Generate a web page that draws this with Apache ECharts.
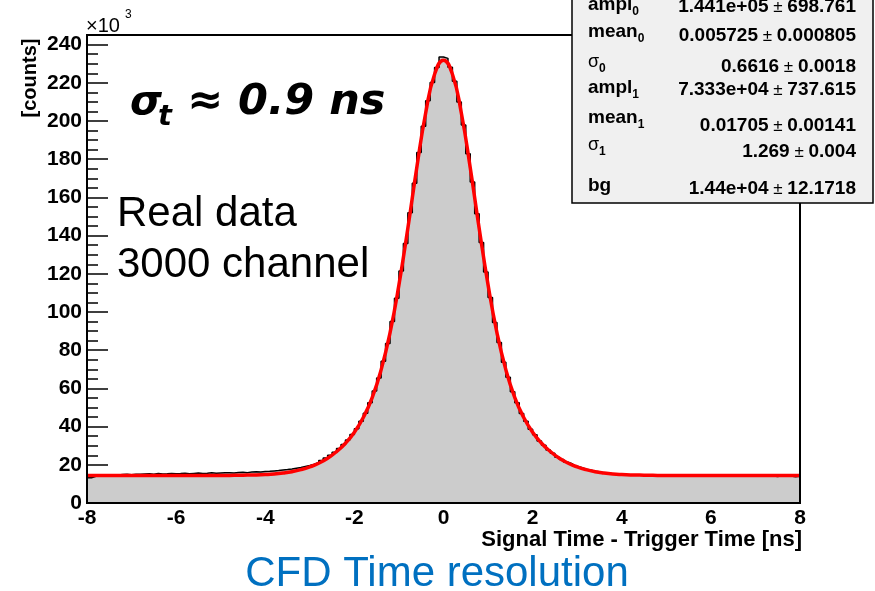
<!DOCTYPE html>
<html>
<head>
<meta charset="utf-8" />
<title>CFD Time resolution</title>
<script src="https://cdn.jsdelivr.net/npm/echarts@6/dist/echarts.min.js"></script>
<style>
  * { margin: 0; padding: 0; }
  body { background: #fff; }
  #main { width: 875px; height: 591px; }
</style>
</head>
<body>
<div id="main"></div>
<script>
// histogram: 160 bins of 0.1 ns from -8 to 8, counts in units of 10^3
var binLow = -8;
var binWidth = 0.1;
var counts = [
  13.2, 14.0, 14.3, 14.6, 14.5, 14.8, 14.7, 14.9, 15.0, 14.8,
  15.1, 15.0, 15.2, 15.3, 15.1, 15.4, 15.2, 15.3, 15.5, 15.3,
  15.4, 15.6, 15.3, 15.5, 15.7, 15.5, 15.6, 15.8, 15.6, 15.7,
  15.8, 15.9, 15.7, 16.0, 16.1, 15.9, 16.2, 16.3, 16.2, 16.5,
  16.6, 16.8, 17.0, 17.3, 17.5, 17.8, 18.2, 18.6, 19.1, 19.6,
  20.3, 21.2, 22.3, 23.6, 25.0, 26.6, 28.5, 30.6, 33.0, 35.8,
  38.9, 42.8, 47.0, 52.5, 58.6, 65.4, 74.2, 83.5, 95.0, 107.2,
  121.5, 135.8, 152.0, 167.4, 183.5, 197.2, 210.6, 220.2, 228.0, 233.5,
  232.8, 228.2, 220.8, 210.0, 197.9, 182.9, 168.0, 151.5, 136.4, 120.9,
  107.6, 94.5, 84.0, 73.7, 65.8, 58.2, 52.5, 46.9, 42.8, 38.6,
  35.7, 32.4, 30.3, 27.7, 26.0, 24.0, 22.8, 21.3, 20.4, 19.2,
  18.6, 17.7, 17.3, 16.6, 16.3, 15.8, 15.7, 15.2, 15.2, 14.9,
  14.9, 14.7, 14.8, 14.5, 14.6, 14.4, 14.6, 14.4, 14.5, 14.3,
  14.5, 14.3, 14.4, 14.2, 14.5, 14.3, 14.2, 14.4, 14.3, 14.1,
  14.4, 14.2, 14.3, 14.0, 14.3, 14.1, 14.4, 14.2, 14.0, 14.3,
  14.2, 14.0, 14.3, 14.1, 13.9, 14.2, 14.0, 14.1, 13.8, 14.0
];

// fitted curve read every 0.2 ns from -8 to 8
var fitLow = -8;
var fitStep = 0.2;
var fitValues = [
  14.4, 14.4, 14.4, 14.4, 14.4, 14.4, 14.4, 14.4, 14.4, 14.4,
  14.4, 14.4, 14.4, 14.4, 14.4, 14.4, 14.45, 14.5, 14.6, 14.7,
  14.9, 15.2, 15.7, 16.4, 17.45, 18.9, 20.8, 23.4, 26.9, 31.3,
  37.1, 44.8, 55.2, 69.7, 89.1, 114.2, 143.9, 175.5, 204.2, 224.5,
  231.8,
  224.5, 204.2, 175.5, 143.9, 114.2, 89.1, 69.7, 55.2, 44.8, 37.1,
  31.3, 26.9, 23.4, 20.8, 18.9, 17.45, 16.4, 15.7, 15.2, 14.9,
  14.7, 14.6, 14.5, 14.45, 14.4, 14.4, 14.4, 14.4, 14.4, 14.4,
  14.4, 14.4, 14.4, 14.4, 14.4, 14.4, 14.4, 14.4, 14.4, 14.4
];

// fit parameter box
var statNames = ['ampl', 'mean', 'σ', 'ampl', 'mean', 'σ', 'bg'];
var statSubs = ['0', '0', '0', '1', '1', '1', ''];
var statValues = ['1.441e+05', '0.005725', '0.6616', '7.333e+04', '0.01705', '1.269', '1.44e+04'];
var statErrors = ['698.761', '0.000805', '0.0018', '737.615', '0.00141', '0.004', '12.1718'];

var xMin = -8, xMax = 8, yMax = 240;

var font = '"Liberation Sans", Arial, sans-serif';

var histData = [];
for (var i = 0; i < counts.length; i++) {
  histData.push([binLow + i * binWidth, counts[i]]);
}
histData.push([binLow + counts.length * binWidth, counts[counts.length - 1]]);

var fitData = [];
for (var j = 0; j < fitValues.length; j++) {
  fitData.push([fitLow + j * fitStep, fitValues[j]]);
}

var graphics = [];
// frame of the pad (the y range runs a little above 240)
graphics.push({
  type: 'rect', z: 50, silent: true,
  shape: {x: 87, y: 35, width: 713, height: 468},
  style: {fill: 'none', stroke: '#000', lineWidth: 2}
});
// stats box
graphics.push({
  type: 'rect', z: 100,
  shape: {x: 572, y: -5, width: 301, height: 208},
  style: {fill: '#f0f0f0', stroke: '#000', lineWidth: 1.5}
});
var nameY = [5, 32, 62, 88, 118, 145, 186];
var valueY = [7, 36, 67, 90, 126, 152, 189];
for (var k = 0; k < statNames.length; k++) {
  var isSigma = statNames[k] === 'σ';
  graphics.push({
    type: 'text', z: 101, x: 588, y: nameY[k],
    style: {
      text: '{n|' + statNames[k] + '}' + (statSubs[k] ? '{s|' + statSubs[k] + '}' : ''),
      verticalAlign: 'middle',
      rich: {
        n: {fontFamily: font, fontSize: isSigma ? 18 : 19, fontWeight: isSigma ? 'normal' : 'bold', lineHeight: 26, fill: '#000'},
        s: {fontFamily: font, fontSize: 12, fontWeight: 'bold', lineHeight: 10, verticalAlign: 'bottom', fill: '#000'}
      }
    }
  });
  graphics.push({
    type: 'text', z: 101, x: 856, y: valueY[k],
    style: {
      text: '{v|' + statValues[k] + '}{p| ± }{v|' + statErrors[k] + '}',
      align: 'right', verticalAlign: 'middle',
      rich: {
        v: {fontFamily: font, fontSize: 19, fontWeight: 'bold', fill: '#000'},
        p: {fontFamily: font, fontSize: 17, fill: '#000'}
      }
    }
  });
}
// exponent marker and y title
graphics.push({type: 'text', x: 86, y: 26, style: {text: '×10', fontFamily: font, fontSize: 20, fill: '#000', verticalAlign: 'middle'}});
graphics.push({type: 'text', x: 125, y: 15, style: {text: '3', fontFamily: font, fontSize: 12, fill: '#000', verticalAlign: 'middle'}});
graphics.push({
  type: 'text', x: 30, y: 78, rotation: Math.PI / 2,
  style: {text: '[counts]', fontFamily: font, fontSize: 20, fontWeight: 'bold', fill: '#000', align: 'center', verticalAlign: 'middle'}
});
// x title
graphics.push({type: 'text', x: 802, y: 540, style: {text: 'Signal Time - Trigger Time [ns]', fontFamily: font, fontSize: 22, fontWeight: 'bold', fill: '#000', align: 'right', verticalAlign: 'middle'}});
// annotations
var big = '"DejaVu Sans", Verdana, sans-serif';
graphics.push({type: 'text', x: 130, y: 103, style: {text: 'σ', fontFamily: big, fontSize: 41, fontWeight: 'bold', fontStyle: 'italic', fill: '#000', verticalAlign: 'middle'}});
graphics.push({type: 'text', x: 158, y: 117, style: {text: 't', fontFamily: big, fontSize: 29, fontWeight: 'bold', fontStyle: 'italic', fill: '#000', verticalAlign: 'middle'}});
graphics.push({type: 'text', x: 187, y: 103, style: {text: '≈ 0.9 ns', fontFamily: big, fontSize: 43, fontWeight: 'bold', fontStyle: 'italic', fill: '#000', verticalAlign: 'middle'}});
graphics.push({type: 'text', x: 117, y: 214, style: {text: 'Real data', fontFamily: font, fontSize: 42, fill: '#000', verticalAlign: 'middle'}});
graphics.push({type: 'text', x: 117, y: 265, style: {text: '3000 channel', fontFamily: font, fontSize: 42, fill: '#000', verticalAlign: 'middle'}});
// slide title
graphics.push({type: 'text', x: 437, y: 574, style: {text: 'CFD Time resolution', fontFamily: font, fontSize: 42, fill: '#0070c0', align: 'center', verticalAlign: 'middle'}});

var chart = echarts.init(document.getElementById('main'), null, {renderer: 'canvas'});
var option = {
  animation: false,
  backgroundColor: '#fff',
  // top leaves room for the 240..245 strip of the frame
  grid: {left: 87, right: 75, top: 44.6, bottom: 88},
  xAxis: {
    type: 'value', min: xMin, max: xMax, interval: 2,
    axisLine: {onZero: false, lineStyle: {color: '#000', width: 2}},
    axisTick: {inside: true, length: 14, lineStyle: {color: '#000', width: 1.5}},
    minorTick: {show: true, splitNumber: 4, length: 7, lineStyle: {color: '#000', width: 1.5}},
    axisLabel: {color: '#000', fontFamily: font, fontSize: 21, fontWeight: 'bold', margin: 5},
    splitLine: {show: false}
  },
  yAxis: {
    type: 'value', min: 0, max: yMax, interval: 20,
    axisLine: {onZero: false, lineStyle: {color: '#000', width: 2}},
    axisTick: {inside: true, length: 21, lineStyle: {color: '#000', width: 1.5}},
    minorTick: {show: true, splitNumber: 4, length: 11, lineStyle: {color: '#000', width: 1.5}},
    axisLabel: {color: '#000', fontFamily: font, fontSize: 21, fontWeight: 'bold', margin: 5},
    splitLine: {show: false}
  },
  series: [
    {
      type: 'line', data: histData, step: 'end', showSymbol: false,
      lineStyle: {color: '#000', width: 1.5},
      areaStyle: {color: '#cccccc', opacity: 1},
      z: 2
    },
    {
      type: 'line', data: fitData, smooth: true, showSymbol: false,
      lineStyle: {color: '#ff0000', width: 3.5},
      z: 3
    }
  ],
  graphic: graphics
};
chart.setOption(option);
</script>
</body>
</html>
